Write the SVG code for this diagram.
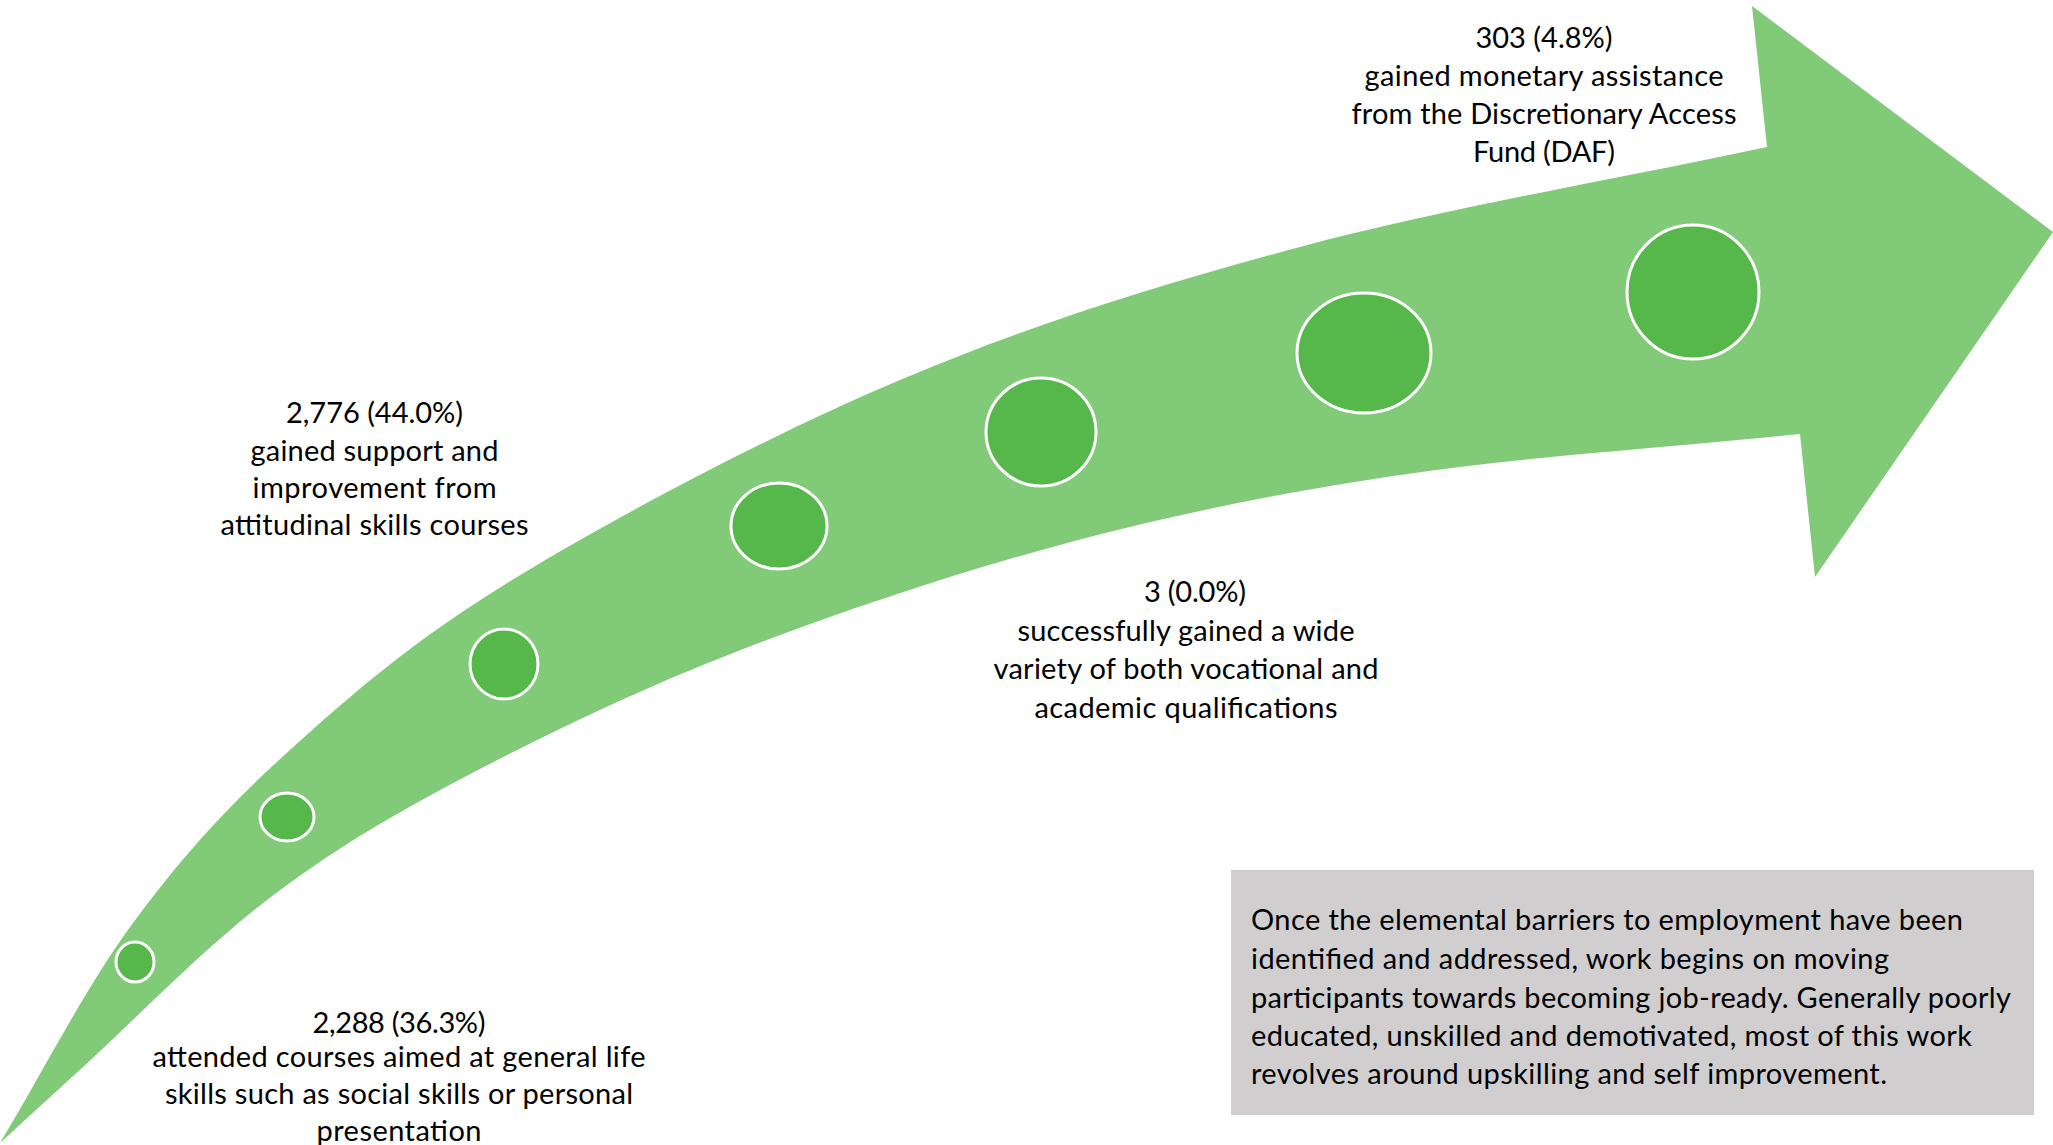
<svg xmlns="http://www.w3.org/2000/svg" width="2053" height="1145" viewBox="0 0 2053 1145">
  <style>
    .arrow { fill: #80CA78; }
    .dot { fill: #56B74B; stroke: #FFFFFF; stroke-width: 3; }
    .lbl { font-family: Lato, "Open Sans", "Liberation Sans", sans-serif; font-size: 29px; fill: #000000; }
    .c { text-anchor: middle; }
    .box { fill: #D0CECE; }
  </style>
  <rect x="0" y="0" width="2053" height="1145" fill="#FFFFFF"/>
  <g id="connectors">
    <path id="arrow" class="arrow" d="M0,1143 C44.3,1069.7 84.7,988.5 133,923 C181.3,857.5 226,807.7 290,750 C354,692.3 415.3,638.7 517,577 C618.7,515.3 769.5,435 900,380 C1030.5,325 1155.5,285.8 1300,247 C1444.5,208.2 1611.3,180.3 1767,147 L1752,6 L2053,232 L1815,577 L1800,434 C1666.7,447.7 1522.2,456.8 1400,475 C1277.8,493.2 1178.2,513.3 1067,543 C955.8,572.7 834.3,613.5 733,653 C631.7,692.5 536.7,738.8 459,780 C381.3,821.2 329.7,852.2 267,900 C204.3,947.8 127.5,1026.5 83,1067 C38.5,1107.5 27.7,1117.7 0,1143 Z"/>
  </g>
  <g id="step-1"><ellipse class="dot" cx="135" cy="962" rx="19" ry="20"/></g>
  <g id="step-2"><ellipse class="dot" cx="287" cy="817" rx="27" ry="24"/></g>
  <g id="step-3"><ellipse class="dot" cx="504" cy="664" rx="34" ry="35"/></g>
  <g id="step-4"><ellipse class="dot" cx="779" cy="526" rx="48" ry="43"/></g>
  <g id="step-5"><ellipse class="dot" cx="1041" cy="432" rx="55" ry="54"/></g>
  <g id="step-6"><ellipse class="dot" cx="1364" cy="353" rx="67" ry="60"/></g>
  <g id="step-7"><ellipse class="dot" cx="1693" cy="292" rx="66" ry="67"/></g>

  <g id="label-daf" class="lbl c">
    <text x="1544" y="48" textLength="137" lengthAdjust="spacing">303 (4.8%)</text>
    <text x="1544" y="86" textLength="359" lengthAdjust="spacing">gained monetary assistance</text>
    <text x="1544" y="124" textLength="385" lengthAdjust="spacing">from the Discretionary Access</text>
    <text x="1544" y="162" textLength="142" lengthAdjust="spacing">Fund (DAF)</text>
  </g>
  <g id="label-attitudinal" class="lbl c">
    <text x="374.5" y="423" textLength="177" lengthAdjust="spacing">2,776 (44.0%)</text>
    <text x="374.5" y="461" textLength="248" lengthAdjust="spacing">gained support and</text>
    <text x="374.5" y="498" textLength="244" lengthAdjust="spacing">improvement from</text>
    <text x="374.5" y="535" textLength="308" lengthAdjust="spacing">attitudinal skills courses</text>
  </g>
  <g id="label-qualifications" class="lbl c">
    <text x="1195" y="602" textLength="102" lengthAdjust="spacing">3 (0.0%)</text>
    <text x="1186" y="641" textLength="337" lengthAdjust="spacing">successfully gained a wide</text>
    <text x="1186" y="679" textLength="385" lengthAdjust="spacing">variety of both vocational and</text>
    <text x="1186" y="718" textLength="303" lengthAdjust="spacing">academic qualifications</text>
  </g>
  <g id="label-life-skills" class="lbl c">
    <text x="399" y="1033" textLength="173" lengthAdjust="spacing">2,288 (36.3%)</text>
    <text x="399" y="1067" textLength="493" lengthAdjust="spacing">attended courses aimed at general life</text>
    <text x="399" y="1104" textLength="468" lengthAdjust="spacing">skills such as social skills or personal</text>
    <text x="399" y="1141" textLength="165" lengthAdjust="spacing">presentation</text>
  </g>
  <g id="summary-box">
    <rect class="box" x="1231" y="870" width="803" height="245"/>
    <g class="lbl">
      <text x="1251" y="930" textLength="712" lengthAdjust="spacing">Once the elemental barriers to employment have been</text>
      <text x="1251" y="969" textLength="638" lengthAdjust="spacing">identified and addressed, work begins on moving</text>
      <text x="1251" y="1008" textLength="760" lengthAdjust="spacing">participants towards becoming job-ready. Generally poorly</text>
      <text x="1251" y="1046" textLength="721" lengthAdjust="spacing">educated, unskilled and demotivated, most of this work</text>
      <text x="1251" y="1084" textLength="636" lengthAdjust="spacing">revolves around upskilling and self improvement.</text>
    </g>
  </g>
</svg>
